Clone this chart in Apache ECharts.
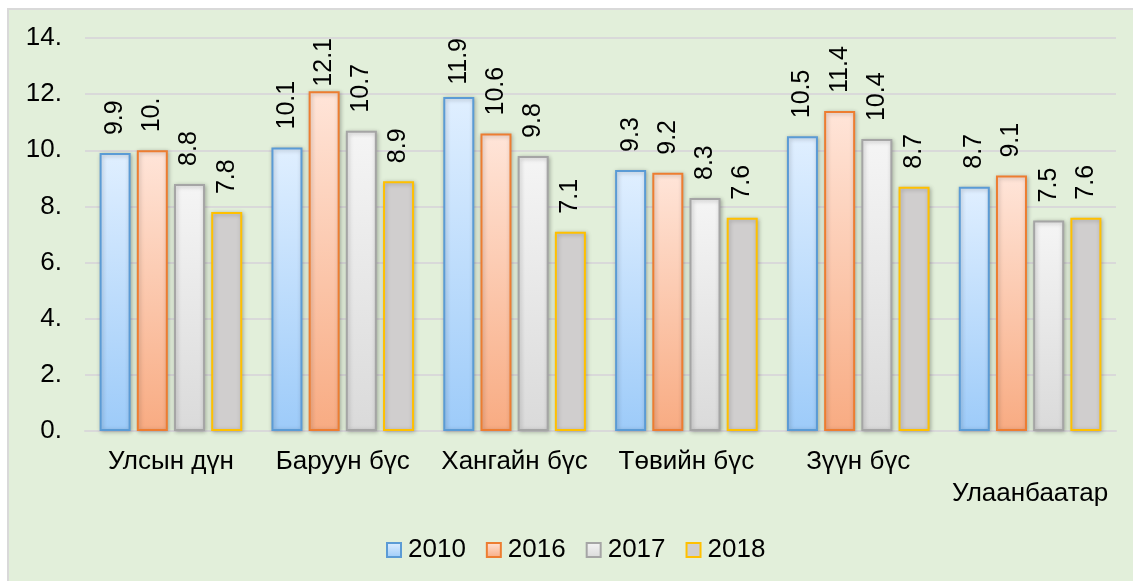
<!DOCTYPE html>
<html><head><meta charset="utf-8">
<script src="https://cdn.jsdelivr.net/npm/echarts@6/dist/echarts.min.js"></script>
<style>html,body{margin:0;padding:0;background:#fff}#c{width:1133px;height:581px}</style>
</head><body><div id="c"></div>
<script>
const categories = ['Улсын дүн','Баруун бүс','Хангайн бүс','Төвийн бүс','Зүүн бүс','Улаанбаатар'];
const seriesNames = ['2010','2016','2017','2018'];
const v2010 = [9.9, 10.1, 11.9, 9.3, 10.5, 8.7];
const v2016 = [10.0, 12.1, 10.6, 9.2, 11.4, 9.1];
const v2017 = [8.8, 10.7, 9.8, 8.3, 10.4, 7.5];
const v2018 = [7.8, 8.9, 7.1, 7.6, 8.7, 7.6];
const yTicks = [0, 2, 4, 6, 8, 10, 12, 14];

const FONT = '"Liberation Sans", Arial, sans-serif';
const PLOT_TOP = 38;
function fmt(v){ return Number.isInteger(v) ? v + '.' : String(v); }
function grad(top, bottom){
  return new echarts.graphic.LinearGradient(0,0,0,1,[{offset:0,color:top},{offset:1,color:bottom}]);
}
const styles = [
  {fill: grad('#e0efff','#9dcbf9'), border:'#5b9bd5'},
  {fill: grad('#ffe5d9','#f8ab82'), border:'#ed7d31'},
  {fill: grad('#f5f5f5','#dadada'), border:'#a5a5a5'},
  {fill: '#d0cece', border:'#ffc000'}
];
const data = [v2010, v2016, v2017, v2018];

const chart = echarts.init(document.getElementById('c'), null, {renderer:'canvas'});
chart.setOption({
  backgroundColor: '#ffffff',
  animation: false,
  textStyle: {fontFamily: FONT},
  graphic: [{
    type:'rect', z:-10, silent:true,
    shape:{x:8, y:9, width:1135, height:580},
    style:{fill:'#e2efda', stroke:'#d9d9d9', lineWidth:2}
  }],
  grid: {left:85, right:17, top:PLOT_TOP, bottom:150, containLabel:false},
  legend: {
    data: seriesNames, left: 381, top: 532,
    itemWidth: 14, itemHeight: 14, itemGap: 20,
    icon: 'rect',
    textStyle: {fontSize: 26, color:'#000', fontFamily: FONT, padding:[0,0,0,2]}
  },
  xAxis: {
    type:'category', data: categories,
    axisLine: {lineStyle:{color:'#d9d9d9', width:2}},
    axisTick: {show:false},
    axisLabel: {
      color:'#000', fontSize:26, fontFamily: FONT, margin:15, interval:0, lineHeight:32,
      formatter: (v, i) => i === 5 ? '\n' + v : v
    }
  },
  yAxis: {
    type:'value', min: yTicks[0], max: yTicks[yTicks.length-1], interval: 2,
    axisLine:{show:false}, axisTick:{show:false},
    splitLine:{lineStyle:{color:'#d9d9d9', width:2}},
    axisLabel:{color:'#000', fontSize:26, fontFamily: FONT, margin:23, formatter: fmt}
  },
  series: seriesNames.map((n, k) => ({
    name: n, type:'bar', data: data[k],
    barWidth: 31, barGap: '20%',
    itemStyle: {color: styles[k].fill, borderColor: styles[k].border, borderWidth: 2,
      shadowColor:'rgba(0,0,0,0.25)', shadowBlur:4, shadowOffsetX:1, shadowOffsetY:1},
    label: {show:true, position:'top', rotate:90, distance:18, align:'left', verticalAlign:'middle',
      color:'#000', fontSize:25, fontFamily: FONT, formatter: p => fmt(p.value)},
    labelLayout: function(p){
      const r = p.labelRect;
      if (r && r.y < PLOT_TOP) return {dx: -(PLOT_TOP - r.y)};
      return {};
    }
  }))
});
</script></body></html>
